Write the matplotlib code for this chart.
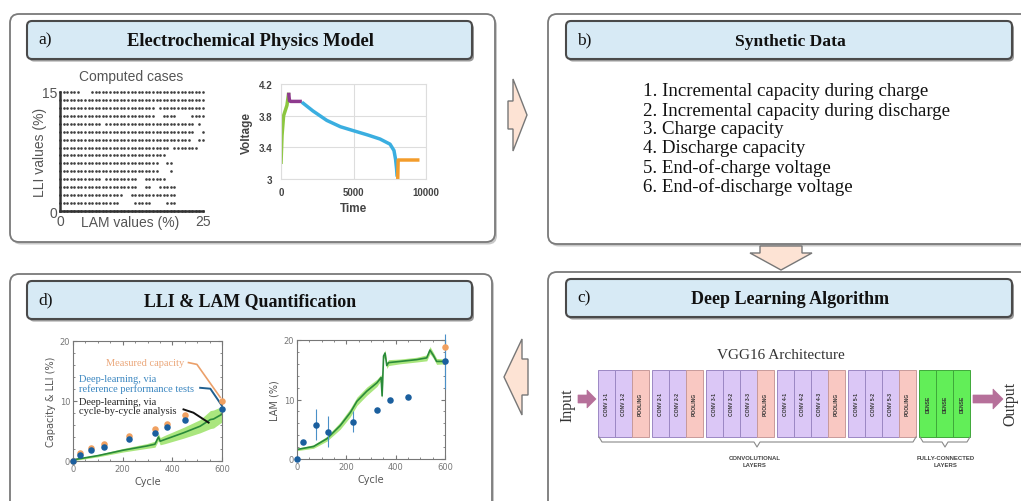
import numpy as np
import matplotlib.pyplot as plt
from matplotlib.patches import FancyBboxPatch, Polygon, Rectangle

# ---------------- data ----------------
# panel a: grid of computed cases, one string per LLI row (15 -> 0), one char per LAM step
lam_step = 0.625
lli_rows = [15, 14, 13, 12, 11, 10, 9, 8, 7, 6, 5, 4, 3, 2, 1, 0]
case_rows = [
    "******   ********************************",
    "*****************************************",
    "*************************** *************",
    "***************************  ****    ****",
    "************ ************************* * ",
    "**************************************  *",
    "*************************************  **",
    "******************************* *******  ",
    "******************************           ",
    "****************************  **         ",
    "****************************   *         ",
    "************ *********  ******           ",
    "**********************  **  *****        ",
    "******************  *************        ",
    "*****************    *****    ***        ",
    "*****************************************",
]

# panel a: voltage profile
t_chg = [0, 70, 180, 410, 530]
v_chg = [3.19, 3.55, 3.80, 3.93, 4.09]
t_cv = [530, 580, 650, 1440]
v_cv = [4.09, 3.99, 3.98, 3.98]
t_dis = [1440, 2200, 3160, 4100, 5000, 6000, 6830, 7520, 7790, 7900, 7970, 8010]
v_dis = [3.97, 3.86, 3.74, 3.66, 3.61, 3.555, 3.505, 3.44, 3.36, 3.25, 3.13, 3.03]
t_rest = [8050, 8080, 8250, 9550]
v_rest = [3.00, 3.24, 3.24, 3.24]

synthetic_items = [
    "1. Incremental capacity during charge",
    "2. Incremental capacity during discharge",
    "3. Charge capacity",
    "4. Discharge capacity",
    "5. End-of-charge voltage",
    "6. End-of-discharge voltage",
]

vgg_groups = [
    ["CONV 1-1", "CONV 1-2", "POOLING"],
    ["CONV 2-1", "CONV 2-2", "POOLING"],
    ["CONV 3-1", "CONV 3-2", "CONV 3-3", "POOLING"],
    ["CONV 4-1", "CONV 4-2", "CONV 4-3", "POOLING"],
    ["CONV 5-1", "CONV 5-2", "CONV 5-3", "POOLING"],
    ["DENSE", "DENSE", "DENSE"],
]

# panel d left: capacity & LLI
rpt_cycle = [0, 27, 74, 125, 227, 330, 378, 452, 600]
cap_measured = [0.0, 1.3, 2.1, 2.8, 4.2, 5.4, 6.2, 7.6, 10.0]
lli_rpt = [0.0, 1.0, 1.8, 2.4, 3.6, 4.7, 5.6, 6.8, 8.6]
cbc_cycle = [0, 101, 202, 297, 330, 344, 351, 371, 445, 512, 553, 566, 600]
lli_cbc = [0.2, 0.9, 1.8, 2.5, 2.8, 4.0, 3.3, 3.6, 4.7, 5.8, 6.9, 7.0, 7.8]
lli_band = [0.15, 0.2, 0.3, 0.4, 0.5, 0.6, 0.6, 0.7, 0.9, 1.1, 1.5, 1.5, 1.3]

# panel d right: LAM
lam_cycle = [0, 23, 75, 125, 225, 324, 375, 449, 600]
lam_rpt = [0.0, 2.9, 5.75, 4.6, 6.3, 8.3, 9.9, 10.5, 16.4]
lam_err = [0.0, 0.2, 2.6, 2.6, 1.7, 0.3, 0.4, 0.2, 4.6]
lam_measured_cycle = [600]
lam_measured = [18.8]
lam_cbc_cycle = [0, 67, 121, 175, 216, 243, 283, 324, 341, 345, 351, 357, 364, 371,
                 418, 485, 526, 539, 553, 566, 600]
lam_cbc = [1.6, 2.1, 3.4, 5.6, 7.8, 9.7, 11.4, 12.8, 13.7, 10.6, 17.3, 17.8, 15.7,
           16.2, 16.4, 16.7, 17.0, 18.3, 17.4, 16.4, 16.4]
lam_band = [0.2, 0.3, 0.4, 0.6, 0.7, 0.7, 0.7, 0.6, 0.5, 0.5, 0.5, 0.5, 0.5, 0.5,
            0.4, 0.4, 0.5, 0.6, 0.5, 0.5, 0.4]

# ---------------- layout ----------------
W, H = 1021, 502
fig = plt.figure(figsize=(W / 100, H / 100), dpi=100)
bg = fig.add_axes([0, 0, 1, 1])
bg.set_xlim(0, W)
bg.set_ylim(H, 0)
bg.axis('off')

serif = ['Liberation Serif', 'DejaVu Serif']
sans = ['Liberation Sans', 'DejaVu Sans']


def px_axes(x0, y0, x1, y1):
    return fig.add_axes([x0 / W, 1 - y1 / H, (x1 - x0) / W, (y1 - y0) / H])


def rbox(x0, y0, x1, y1, fc, ec, lw, r, shadow):
    bg.add_patch(FancyBboxPatch((x0 + 2, y0 + 2.5), x1 - x0, y1 - y0,
                                boxstyle="round,pad=0,rounding_size=%g" % r,
                                fc=shadow, ec='none'))
    bg.add_patch(FancyBboxPatch((x0, y0), x1 - x0, y1 - y0,
                                boxstyle="round,pad=0,rounding_size=%g" % r,
                                fc=fc, ec=ec, lw=lw))


# outer panels
for x0, y0, x1, y1 in [(10, 15, 495, 243), (548, 15, 1035, 245),
                       (10, 275, 492, 515), (548, 273, 1035, 515)]:
    rbox(x0, y0, x1, y1, 'white', '#7a7a7a', 1.3, 9, '#c8c8c8')

# title bars
titles = [((27, 22, 472, 60), "a)", "Electrochemical Physics Model", 13.4),
          ((566, 22, 1012, 60), "b)", "Synthetic Data", 12.6),
          ((27, 282, 472, 320), "d)", "LLI & LAM Quantification", 12.9),
          ((566, 280, 1012, 318), "c)", "Deep Learning Algorithm", 13.0)]
for (x0, y0, x1, y1), tag, name, fs in titles:
    rbox(x0, y0, x1, y1, '#d7eaf5', '#4a4a4a', 1.5, 5, '#9a9a9a')
    bg.text(x0 + 11, (y0 + y1) / 2 - 1, tag, family=serif, fontsize=12.5,
            ha='left', va='center', color='#111')
    bg.text((x0 + x1) / 2 + 1, (y0 + y1) / 2 + 1, name, family=serif, fontsize=fs,
            fontweight='bold', ha='center', va='center', color='#111')

# flow arrows
arrow_kw = dict(fc='#fde3d4', ec='#777777', lw=1.0, joinstyle='miter')
bg.add_patch(Polygon([(508, 102), (513, 102), (513, 80), (527, 116), (513, 152),
                      (513, 130), (508, 130)], **arrow_kw))
bg.add_patch(Polygon([(760, 247), (802, 247), (802, 254), (812, 254), (781, 271),
                      (750, 254), (760, 254)], **arrow_kw))
bg.add_patch(Polygon([(528, 360), (522, 360), (522, 340), (504, 378), (522, 416),
                      (522, 396), (528, 396)], **arrow_kw))

# ---------------- panel a: computed cases ----------------
ax = px_axes(60, 93, 203, 212)
xs, ys = [], []
for lli, row in zip(lli_rows, case_rows):
    for i, ch in enumerate(row):
        if ch == '*':
            xs.append(i * lam_step)
            ys.append(lli)
ax.scatter(xs, ys, s=3.6, color='#404040', lw=0, clip_on=False)
ax.set_xlim(0, 25)
ax.set_ylim(0, 15)
for s in ['top', 'right']:
    ax.spines[s].set_visible(False)
ax.spines['left'].set_color('#333')
ax.spines['left'].set_linewidth(1.8)
ax.spines['bottom'].set_color('#333')
ax.spines['bottom'].set_linewidth(1.8)
ax.set_xticks([0, 25])
ax.set_yticks([0, 15])
ax.tick_params(length=0, labelsize=10, colors='#555', pad=2)
for lab in ax.get_xticklabels() + ax.get_yticklabels():
    lab.set_family(sans)
ax.set_xlabel("LAM values (%)", fontsize=10, color='#555', family=sans)
ax.xaxis.set_label_coords(0.49, -0.035)
ax.xaxis.label.set_va('top')
ax.set_ylabel("LLI values (%)", fontsize=10, color='#555', family=sans)
ax.yaxis.set_label_coords(-0.09, 0.5)
ax.set_title("Computed cases", fontsize=10, color='#555', family=sans, pad=9)
ax.set_facecolor('none')

# ---------------- panel a: voltage ----------------
ax = px_axes(281, 85, 426, 180)
ax.plot(t_chg, v_chg, color='#8cc63f', lw=2.5, solid_capstyle='butt')
ax.plot(t_cv, v_cv, color='#8e3a8e', lw=2.5, solid_capstyle='butt')
ax.plot(t_dis, v_dis, color='#3aaee0', lw=2.5, solid_capstyle='butt')
ax.plot(t_rest, v_rest, color='#f39c2b', lw=2.5, solid_capstyle='butt')
ax.set_xlim(0, 10000)
ax.set_ylim(3, 4.2)
ax.set_xticks([0, 5000, 10000])
ax.set_yticks([3, 3.4, 3.8, 4.2])
ax.set_yticklabels(['3', '3.4', '3.8', '4.2'])
ax.grid(color='#dddddd', lw=0.8)
for s in ax.spines.values():
    s.set_color('#dddddd')
ax.tick_params(length=0, labelsize=7, colors='#444', pad=6)
for lab in ax.get_xticklabels() + ax.get_yticklabels():
    lab.set_fontweight('bold')
    lab.set_family(sans)
ax.set_xlabel("Time", fontsize=8.5, fontweight='bold', color='#444', family=sans, labelpad=3)
ax.set_ylabel("Voltage", fontsize=8.5, fontweight='bold', color='#444', family=sans, labelpad=4)

# ---------------- panel b ----------------
for k, item in enumerate(synthetic_items):
    bg.text(643, 92 + k * 19, item, family=serif, fontsize=13.6, ha='left', va='center',
            color='#111', linespacing=1.0)

# ---------------- panel c: VGG16 ----------------
bg.text(781, 356, "VGG16 Architecture", family=serif, fontsize=11, ha='center',
        va='center', color='#333')
col_w, gap = 16.86, 3.6
x = 598
for grp in vgg_groups:
    for name in grp:
        if name == "POOLING":
            fc, ec = '#f9c8c2', '#c89a9a'
        elif name == "DENSE":
            fc, ec = '#62ee58', '#3fa83a'
        else:
            fc, ec = '#dbc7f6', '#9c88c4'
        bg.add_patch(Rectangle((x, 371), col_w, 67, fc=fc, ec=ec, lw=0.7))
        bg.text(x + col_w / 2, 404.5, name, rotation=90, fontsize=3.6, fontweight='bold',
                family=sans, ha='center', va='center', color='#333')
        x += col_w
    x += gap

mauve = '#b6709a'
bg.add_patch(Polygon([(578, 396), (587, 396), (587, 391), (596, 400), (587, 409),
                      (587, 404), (578, 404)], fc=mauve, ec=mauve, lw=0.5))
bg.add_patch(Polygon([(973, 396), (993, 396), (993, 390), (1003, 400), (993, 410),
                      (993, 404), (973, 404)], fc=mauve, ec=mauve, lw=0.5))
bg.text(567, 405, "Input", rotation=90, family=serif, fontsize=11.5, ha='center',
        va='center', color='#333')
bg.text(1010, 404, "Output", rotation=90, family=serif, fontsize=11.5, ha='center',
        va='center', color='#333')

bg.plot([599, 602, 754, 757, 760, 913, 916], [438, 443, 443, 448, 443, 443, 438],
        color='#8a8a8a', lw=0.8)
bg.plot([920, 923, 942, 945, 948, 967, 970], [438, 443, 443, 448, 443, 443, 438],
        color='#8a8a8a', lw=0.8)
bg.text(755, 462, "CONVOLUTIONAL\nLAYERS", fontsize=4.3, fontweight='bold', family=sans,
        ha='center', va='center', color='#444', linespacing=1.6)
bg.text(946, 462, "FULLY-CONNECTED\nLAYERS", fontsize=4.3, fontweight='bold', family=sans,
        ha='center', va='center', color='#444', linespacing=1.6)

# ---------------- panel d plots ----------------
green = '#2a8a3a'
band_c = '#95e05e'
blue = '#1b5f9e'
orange = '#f0a060'


def style_d(ax, ylabel):
    ax.set_xlim(0, 600)
    ax.set_ylim(0, 20)
    ax.set_xticks([0, 200, 400, 600])
    ax.set_yticks([0, 10, 20])
    ax.minorticks_on()
    ax.tick_params(which='both', direction='in', top=True, right=True, colors='#777',
                   labelsize=6, labelcolor='#777', pad=2)
    ax.tick_params(which='major', length=3)
    ax.tick_params(which='minor', length=1.5)
    for s in ax.spines.values():
        s.set_color('#777')
        s.set_linewidth(0.8)
    ax.set_xlabel("Cycle", fontsize=7, color='#555', labelpad=2)
    ax.set_ylabel(ylabel, fontsize=7, color='#555', labelpad=3)
    ax.set_facecolor('none')


ax = px_axes(73, 342, 222, 462)
lo = np.array(lli_cbc) - np.array(lli_band)
hi = np.array(lli_cbc) + np.array(lli_band)
ax.fill_between(cbc_cycle, lo, hi, color=band_c, alpha=0.8, lw=0)
ax.plot(cbc_cycle, lli_cbc, color=green, lw=1.2)
ax.scatter(rpt_cycle, cap_measured, s=22, color=orange, zorder=4, clip_on=False, lw=0)
ax.scatter(rpt_cycle, lli_rpt, s=22, color=blue, zorder=5, clip_on=False, lw=0)
style_d(ax, "Capacity & LLI (%)")
ax.text(290, 16.4, "Measured capacity", family=serif, fontsize=7.5, color='#eba77a',
        ha='center', va='center')
ax.plot([465, 499, 593], [16.4, 16.1, 10.6], color='#eba06a', lw=1.2)
ax.text(24, 12.9, "Deep-learning, via\nreference performance tests", family=serif,
        fontsize=7.5, color='#3a86c0', ha='left', va='center', linespacing=0.95)
ax.plot([512, 553, 600], [12.2, 12.05, 9.2], color='#1f5f8f', lw=1.4)
ax.text(24, 9.2, "Deep-learning, via\ncycle-by-cycle analysis", family=serif,
        fontsize=7.5, color='#222', ha='left', va='center', linespacing=0.95)
ax.plot([445, 485, 546], [8.6, 8.05, 6.4], color='#111', lw=1.4)

ax = px_axes(297, 341, 445, 460)
lo = np.array(lam_cbc) - np.array(lam_band)
hi = np.array(lam_cbc) + np.array(lam_band)
ax.fill_between(lam_cbc_cycle, lo, hi, color=band_c, alpha=0.8, lw=0)
ax.plot(lam_cbc_cycle, lam_cbc, color=green, lw=1.2)
ax.errorbar(lam_cycle, lam_rpt, yerr=lam_err, fmt='none', ecolor='#4a90c8', elinewidth=0.8,
            zorder=3, clip_on=False)
ax.scatter(lam_measured_cycle, lam_measured, s=22, color=orange, zorder=4, clip_on=False, lw=0)
ax.scatter(lam_cycle, lam_rpt, s=22, color=blue, zorder=5, clip_on=False, lw=0)
style_d(ax, "LAM (%)")

fig.savefig("out.png", dpi=100)
